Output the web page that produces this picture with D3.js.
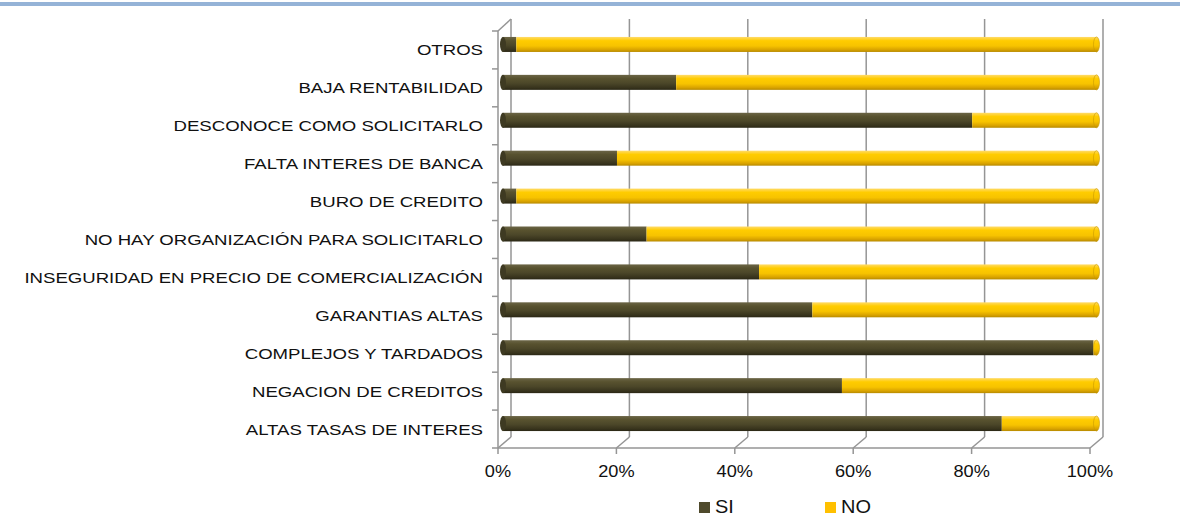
<!DOCTYPE html>
<html>
<head>
<meta charset="utf-8">
<script src="https://cdn.jsdelivr.net/npm/d3@7"></script>
<style>
  body { margin: 0; background: #fff; }
  svg { display: block; font-family: "Liberation Sans", Arial, sans-serif; }
</style>
</head>
<body>
<div id="chart"></div>
<script>
// categories top to bottom, SI share in percent
const categories = [
  "OTROS",
  "BAJA RENTABILIDAD",
  "DESCONOCE COMO SOLICITARLO",
  "FALTA INTERES DE BANCA",
  "BURO DE CREDITO",
  "NO HAY ORGANIZACIÓN PARA SOLICITARLO",
  "INSEGURIDAD EN PRECIO DE COMERCIALIZACIÓN",
  "GARANTIAS ALTAS",
  "COMPLEJOS Y TARDADOS",
  "NEGACION DE CREDITOS",
  "ALTAS TASAS DE INTERES"
];
const siValues = [2, 29, 79, 19, 2, 24, 43, 52, 99.5, 57, 84];
const noValues = [98, 71, 21, 81, 98, 76, 57, 48, 0.5, 43, 16];
const xTicks = [0, 20, 40, 60, 80, 100];
const seriesNames = ["SI", "NO"];

const W = 1180, H = 522;
const depthX = 13, depthY = -11;   // 3d depth offset of the back wall
const barH = 15;

const svg = d3.select("#chart").append("svg")
  .attr("width", W).attr("height", H);

// top rule
svg.append("rect").attr("x", 0).attr("y", 2).attr("width", W).attr("height", 4)
  .attr("fill", "#95b3d7");

const x = d3.scaleLinear().domain([0, 100]).range([498, 1090]);
const y = d3.scaleBand().domain(categories).range([31, 448]);

const defs = svg.append("defs");
function cyl(id, stops) {
  const g = defs.append("linearGradient").attr("id", id)
    .attr("x1", 0).attr("y1", 0).attr("x2", 0).attr("y2", 1);
  stops.forEach(s => g.append("stop").attr("offset", s[0]).attr("stop-color", s[1]));
}
cyl("gSI", [[0, "#6b6546"], [0.25, "#58522f"], [0.55, "#4c4729"], [0.85, "#38341d"], [1, "#2a2715"]]);
cyl("gNO", [[0, "#ffdb6a"], [0.25, "#ffcc00"], [0.6, "#f7c300"], [0.85, "#d9a300"], [1, "#b78a00"]]);
const fills = { SI: "url(#gSI)", NO: "url(#gNO)" };

const grid = "#959595";
const frame = svg.append("g").attr("fill", "none").attr("stroke", grid).attr("stroke-width", 1.5);

// back wall gridlines
frame.selectAll(".vg").data(xTicks).join("line")
  .attr("x1", d => x(d) + depthX).attr("x2", d => x(d) + depthX)
  .attr("y1", 31 + depthY - 1).attr("y2", 448 + depthY);

// floor
frame.append("line").attr("x1", x(0)).attr("x2", x(100)).attr("y1", 448).attr("y2", 448);
frame.selectAll(".fd").data(xTicks).join("line")
  .attr("x1", d => x(d)).attr("y1", 448)
  .attr("x2", d => x(d) + depthX).attr("y2", 448 + depthY);
frame.selectAll(".ft").data(xTicks).join("line")
  .attr("x1", d => x(d)).attr("x2", d => x(d))
  .attr("y1", 448).attr("y2", 454);

// left wall
frame.append("line").attr("x1", x(0)).attr("x2", x(0)).attr("y1", 31).attr("y2", 448);
frame.append("line").attr("x1", x(0)).attr("y1", 31)
  .attr("x2", x(0) + depthX).attr("y2", 31 + depthY - 1);
const bounds = categories.map(c => y(c)).concat([448]);
frame.selectAll(".lt").data(bounds).join("line")
  .attr("x1", x(0) - 6).attr("x2", x(0))
  .attr("y1", d => d).attr("y2", d => d);

// stacked cylinder bars
const rows = categories.map((c, i) => ({ cat: c, SI: siValues[i], NO: noValues[i] }));
const stacked = d3.stack().keys(seriesNames)(rows);
const midX = depthX / 2, midY = depthY / 2;
const barY = d => y(d.data.cat) + y.bandwidth() / 2 + midY - barH / 2;

const bars = svg.append("g");
stacked.forEach(layer => {
  bars.selectAll(null).data(layer.filter(d => d[1] - d[0] > 0)).join("rect")
    .attr("x", d => x(d[0]) + midX - (d[0] === 0 ? 2 : 0))
    .attr("y", barY)
    .attr("width", d => x(d[1]) - x(d[0]) + (d[0] === 0 ? 2 : 0))
    .attr("height", barH)
    .attr("fill", fills[layer.key]);
});
// rounded caps at both ends
const last = stacked[stacked.length - 1];
bars.selectAll(".capL").data(stacked[0]).join("ellipse")
  .attr("cx", x(0) + midX - 1.5).attr("cy", d => barY(d) + barH / 2)
  .attr("rx", 3).attr("ry", barH / 2)
  .attr("fill", d => d[1] > 0 ? "#3e3a22" : "#d9a300");
bars.selectAll(".capR").data(last).join("ellipse")
  .attr("cx", x(100) + midX).attr("cy", d => barY(d) + barH / 2)
  .attr("rx", 3).attr("ry", barH / 2)
  .attr("fill", "url(#gNO)").attr("stroke", "#c79800").attr("stroke-width", 0.6);

// category labels (reference text is drawn wide, so stretch horizontally)
svg.append("g").selectAll("text").data(categories).join("text")
  .attr("transform", d => `translate(483,${y(d) + y.bandwidth() / 2 + 5.5}) scale(1.2,1)`)
  .attr("text-anchor", "end").attr("font-size", 15.5).attr("fill", "#111")
  .text(d => d);

// x tick labels
svg.append("g").selectAll("text").data(xTicks).join("text")
  .attr("transform", d => `translate(${x(d)},477) scale(1.07,1)`)
  .attr("text-anchor", "middle").attr("font-size", 17).attr("fill", "#111")
  .text(d => d + "%");

// legend
const legendX = { SI: 699, NO: 825 };
const lg = svg.append("g").selectAll("g").data(seriesNames).join("g")
  .attr("transform", d => `translate(${legendX[d]},502)`);
lg.append("rect").attr("width", 11).attr("height", 11)
  .attr("fill", d => d === "SI" ? "#4f4a2c" : "#ffc000");
lg.append("text").attr("transform", "translate(16,11) scale(1.05,1)")
  .attr("font-size", 19).attr("fill", "#111")
  .text(d => d);
</script>
</body>
</html>
